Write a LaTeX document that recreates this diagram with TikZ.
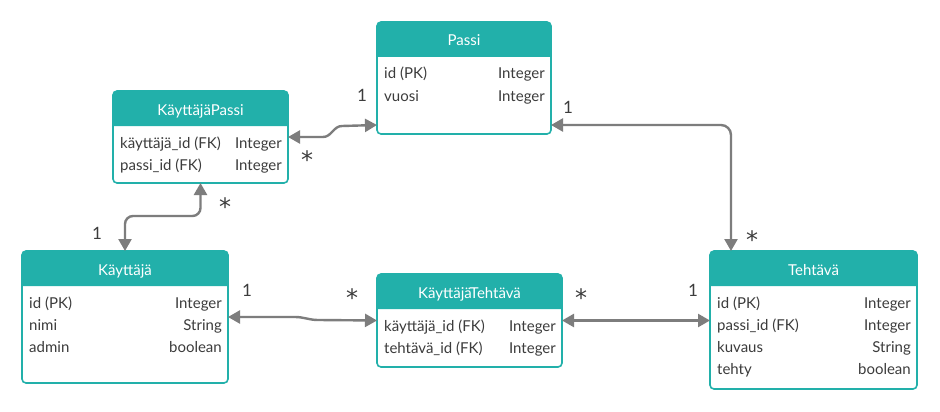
\documentclass[tikz,border=0pt]{standalone}
\usepackage{fontspec}
\setmainfont{Lato}
\newfontfamily\starfont{DejaVu Sans}
\usetikzlibrary{arrows.meta,calc}
\definecolor{hdr}{RGB}{34,176,170}
\definecolor{txt}{RGB}{60,60,60}
\definecolor{conn}{RGB}{125,125,125}
\newcommand\entity[5]{%
  \node[ebody, minimum width=#3pt, minimum height=#4pt] (#1) at (#2) {};
  \fill[hdr] ([yshift=-35pt]#1.north west) [rounded corners=4pt] -- (#1.north west) -- (#1.north east) [sharp corners] -- ([yshift=-35pt]#1.north east) -- cycle;
  \node[htext] (#1-t) at ([yshift=-24pt]#1.north) {#5};
  \draw[eborder] (#1.south west) rectangle (#1.north east);
}
\newcommand\erow[4]{%
  \node[rowl] (#1-l#2) at ([xshift=7pt,yshift={-(57+22*(#2-1))*1pt}]#1.north west) {#3};
  \node[rowr] (#1-r#2) at ([xshift=-6pt,yshift={-(57+22*(#2-1))*1pt}]#1.north east) {#4};
}
\tikzset{
  ebody/.style={rectangle, fill=white, inner sep=0pt, outer sep=0pt},
  eborder/.style={draw=hdr, line width=1.6pt, rounded corners=4pt},
  htext/.style={anchor=base, text=white, font=\fontsize{15}{17}\selectfont, inner sep=0pt},
  rowl/.style={anchor=base west, text=txt, font=\fontsize{15}{17}\selectfont, inner sep=0pt},
  rowr/.style={anchor=base east, text=txt, font=\fontsize{15}{17}\selectfont, inner sep=0pt},
  conn/.style={draw=conn, line width=2.4pt, {Triangle[length=12pt,width=13pt]}-{Triangle[length=12pt,width=13pt]}},
  card/.style={anchor=base, text=txt, font=\fontsize{17}{19}\selectfont, inner sep=0pt},
  star/.style={anchor=base, text=txt, font=\starfont\fontsize{24}{26}\selectfont, inner sep=0pt},
}
\begin{document}
\begin{tikzpicture}[x=1pt,y=-1pt]
\useasboundingbox[fill=white] (0,0) rectangle (940,412);

\entity{passi}{464,78}{174}{112}{Passi}
\erow{passi}{1}{id (PK)}{Integer}
\erow{passi}{2}{vuosi}{Integer}

\entity{kp}{200.5,137}{175}{92}{KäyttäjäPassi}
\erow{kp}{1}{käyttäjä\_id (FK)}{Integer}
\erow{kp}{2}{passi\_id (FK)}{Integer}

\entity{kay}{125,317}{206}{132}{Käyttäjä}
\erow{kay}{1}{id (PK)}{Integer}
\erow{kay}{2}{nimi}{String}
\erow{kay}{3}{admin}{boolean}

\entity{kt}{469.5,320.5}{185}{93}{KäyttäjäTehtävä}
\erow{kt}{1}{käyttäjä\_id (FK)}{Integer}
\erow{kt}{2}{tehtävä\_id (FK)}{Integer}

\entity{teh}{813.5,320}{207}{138}{Tehtävä}
\erow{teh}{1}{id (PK)}{Integer}
\erow{teh}{2}{passi\_id (FK)}{Integer}
\erow{teh}{3}{kuvaus}{String}
\erow{teh}{4}{tehty}{boolean}

% connectors
\coordinate (c1a) at (323,137);
\coordinate (c1b) at (342,126);
\draw[conn] (kp.east) -- (c1a) to[out=0,in=180] (c1b) -- ([yshift=9pt]passi.south west);
\draw[conn, rounded corners=10pt] ([yshift=9pt]passi.south east) -| ([xshift=21pt]teh.north west);
\draw[conn, rounded corners=8pt] (kp.south) |- ([yshift=35pt]kay.north) -- (kay.north);
\coordinate (c4a) at (295,317);
\coordinate (c4b) at (318,320);
\draw[conn] (kay.east) -- (c4a) to[out=0,in=180] (c4b) -- (kt.west);
\draw[conn] (kt.east) -- (kt.east -| teh.west);

% cardinalities
\node[card] (m1a) at (362,101.5) {1};
\node[star] (m1b) at (307,168.5) {*};
\node[card] (m2a) at (568,113.5) {1};
\node[star] (m2b) at (752,248.5) {*};
\node[star] (m3a) at (225,215.5) {*};
\node[card] (m3b) at (97,239.5) {1};
\node[card] (m4a) at (247,296.5) {1};
\node[star] (m4b) at (352,306.5) {*};
\node[star] (m5a) at (581,306.5) {*};
\node[card] (m5b) at (693,296.5) {1};
\end{tikzpicture}
\end{document}
